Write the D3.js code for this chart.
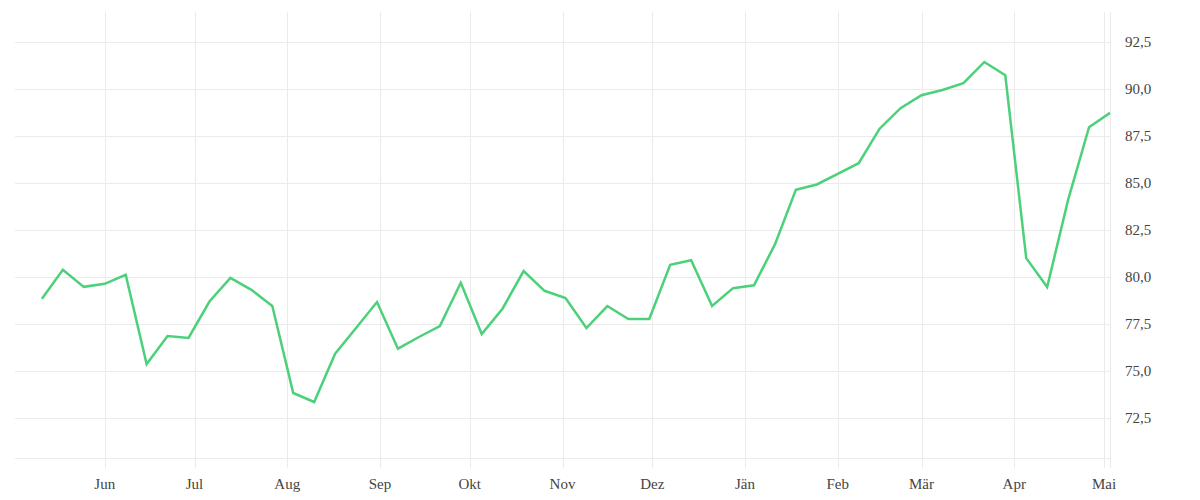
<!DOCTYPE html>
<html>
<head>
<meta charset="utf-8">
<script src="https://cdn.jsdelivr.net/npm/d3@7"></script>
<style>
  html, body { margin: 0; padding: 0; background: #fff; }
  svg { display: block; }
  text { font-family: "Liberation Serif", "DejaVu Serif", serif; }
</style>
</head>
<body>
<svg id="chart" width="1200" height="500"></svg>
<script>
// ---- data ----
const startDate = "2022-05-11"; // first weekly observation
const values = [
  78.85, 80.39, 79.48, 79.64, 80.12, 75.37, 76.86, 76.76, 78.70, 79.96,
  79.32, 78.46, 73.83, 73.35, 75.92, 77.29, 78.67, 76.19, 76.81, 77.39,
  79.70, 76.97, 78.33, 80.32, 79.27, 78.88, 77.29, 78.46, 77.77, 77.77,
  80.65, 80.90, 78.46, 79.41, 79.56, 81.74, 84.64, 84.93, 85.49, 86.06,
  87.90, 88.99, 89.68, 89.96, 90.32, 91.45, 90.74, 81.01, 79.47, 84.11,
  87.98, 88.74
];
const monthTicks = ["2022-06-01","2022-07-01","2022-08-01","2022-09-01","2022-10-01","2022-11-01","2022-12-01","2023-01-01","2023-02-01","2023-03-01","2023-04-01","2023-05-01"];
const monthLabels = ["Jun","Jul","Aug","Sep","Okt","Nov","Dez","Jän","Feb","Mär","Apr","Mai"];
const yTicks = [72.5, 75, 77.5, 80, 82.5, 85, 87.5, 90, 92.5];

// ---- build ----
const parse = d3.utcParse("%Y-%m-%d");
const t0 = parse(startDate);
const data = values.map((v, i) => ({ date: d3.utcDay.offset(t0, i * 7), value: v }));

const mL = 15, mR = 1110, mT = 12, mB = 458;
const x = d3.scaleUtc()
  .domain([parse("2022-05-02"), data[data.length - 1].date])
  .range([mL, mR]);
const y = d3.scaleLinear().domain([70.37, 94.11]).range([mB, mT]);

const locale = d3.formatLocale({ decimal: ",", thousands: ".", grouping: [3], currency: ["", "€"] });
const fmt = locale.format(".1f");

const svg = d3.select("#chart");
const grid = "#ebebeb";

// horizontal grid
svg.append("g").selectAll("line").data(yTicks).join("line")
  .attr("x1", mL).attr("x2", mR)
  .attr("y1", d => Math.round(y(d)) + 0.5).attr("y2", d => Math.round(y(d)) + 0.5)
  .attr("stroke", grid).attr("stroke-width", 1);
// bottom line
svg.append("line").attr("x1", mL).attr("x2", mR)
  .attr("y1", mB + 0.5).attr("y2", mB + 0.5)
  .attr("stroke", grid).attr("stroke-width", 1);

// vertical grid + x labels
const tickDates = monthTicks.map(parse);
svg.append("g").selectAll("line").data(tickDates).join("line")
  .attr("x1", d => Math.round(x(d)) + 0.5).attr("x2", d => Math.round(x(d)) + 0.5)
  .attr("y1", mT).attr("y2", mB + 10)
  .attr("stroke", grid).attr("stroke-width", 1);
svg.append("line").attr("x1", mR + 0.5).attr("x2", mR + 0.5)
  .attr("y1", mT).attr("y2", mB + 10)
  .attr("stroke", grid).attr("stroke-width", 1);

svg.append("g").selectAll("text").data(tickDates).join("text")
  .attr("x", d => x(d)).attr("y", 489)
  .attr("text-anchor", "middle")
  .attr("font-size", 15).attr("fill", "#444")
  .text((d, i) => monthLabels[i]);

// y labels
svg.append("g").selectAll("text").data(yTicks).join("text")
  .attr("x", mR + 15).attr("y", d => y(d) + 5)
  .attr("text-anchor", "start")
  .attr("font-size", 15).attr("fill", "#444")
  .text(d => fmt(d));

// line
const line = d3.line().x(d => x(d.date)).y(d => y(d.value));
svg.append("path").datum(data)
  .attr("d", line)
  .attr("fill", "none")
  .attr("stroke", "#4cd17a")
  .attr("stroke-width", 2.5)
  .attr("stroke-linejoin", "miter");
</script>
</body>
</html>
